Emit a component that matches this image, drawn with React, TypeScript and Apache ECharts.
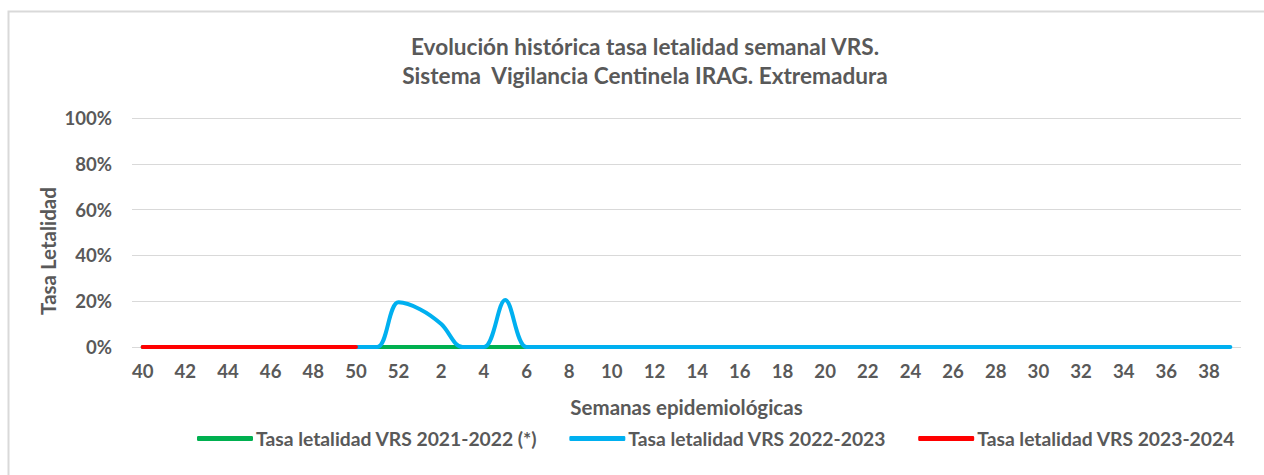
import React, { useEffect, useRef } from "react";
import * as echarts from "echarts";

const weeks: string[] = [
  "40","41","42","43","44","45","46","47","48","49","50","51","52",
  "1","2","3","4","5","6","7","8","9","10","11","12","13","14","15","16","17","18","19","20",
  "21","22","23","24","25","26","27","28","29","30","31","32","33","34","35","36","37","38","39",
];

// Tasa letalidad VRS 2021-2022 (*): weeks 40..7
const s2122: (number | null)[] = [
  0,0,0,0,0,0,0,0,0,0,0,0,0,
  0,0,0,0,0,0,0,
];
// Tasa letalidad VRS 2022-2023: weeks 50..39
const s2223: (number | null)[] = [
  null,null,null,null,null,null,null,null,null,null,0,0,19.5,
  16.5,10,0,0,20.5,0,0,0,0,0,0,0,0,0,0,0,0,0,0,0,
  0,0,0,0,0,0,0,0,0,0,0,0,0,0,0,0,0,0,0,
];
// Tasa letalidad VRS 2023-2024: weeks 40..50
const s2324: (number | null)[] = [0,0,0,0,0,0,0,0,0,0,0];

const yTicks = [0, 20, 40, 60, 80, 100];

const names = [
  "Tasa letalidad VRS 2021-2022 (*)",
  "Tasa letalidad VRS 2022-2023",
  "Tasa letalidad VRS 2023-2024",
];
const colors = ["#00B050", "#00B0F0", "#FF0000"];

const FONT = "Lato";
const GREY = "#595959";

export default function App() {
  const ref = useRef<HTMLDivElement>(null);
  useEffect(() => {
    if (!ref.current) return;
    const chart = echarts.init(ref.current, null, { renderer: "svg" });
    const mk = (i: number, data: (number | null)[], z: number) => ({
      name: names[i],
      type: "line",
      data,
      smooth: 0.35,
      symbol: "none",
      z,
      lineStyle: { color: colors[i], width: 4, cap: "round", join: "round" },
      itemStyle: { color: colors[i] },
    });
    chart.setOption({
      animation: false,
      backgroundColor: "#ffffff",
      textStyle: { fontFamily: FONT },
      title: {
        text: "Evolución histórica tasa letalidad semanal VRS.\nSistema  Vigilancia Centinela IRAG. Extremadura",
        left: 640,
        top: 27,
        textAlign: "center",
        textStyle: {
          fontFamily: FONT,
          fontSize: 22.6,
          fontWeight: "bold",
          color: GREY,
          lineHeight: 29,
        },
      },
      grid: { left: 132, right: 23, top: 118, bottom: 128 },
      xAxis: {
        type: "category",
        data: weeks,
        boundaryGap: true,
        axisLine: { show: false },
        axisTick: { show: false },
        axisLabel: {
          interval: 1,
          margin: 14,
          fontFamily: FONT,
          fontSize: 18.6,
          fontWeight: "bold",
          color: GREY,
        },
        name: "Semanas epidemiológicas",
        nameLocation: "middle",
        nameGap: 49,
        nameTextStyle: {
          fontFamily: FONT,
          fontSize: 20.5,
          fontWeight: "bold",
          color: GREY,
        },
      },
      yAxis: {
        type: "value",
        min: yTicks[0],
        max: yTicks[yTicks.length - 1],
        interval: 20,
        axisLine: { show: false },
        axisTick: { show: false },
        splitLine: { lineStyle: { color: "#D9D9D9", width: 1 } },
        axisLabel: {
          formatter: "{value}%",
          margin: 20,
          fontFamily: FONT,
          fontSize: 18.6,
          fontWeight: "bold",
          color: GREY,
        },
      },
      legend: {
        data: names,
        left: 192,
        top: 424,
        itemWidth: 56,
        itemHeight: 5,
        itemGap: 32,
        icon: "roundRect",
        textStyle: {
          fontFamily: FONT,
          fontSize: 19.3,
          fontWeight: "bold",
          color: GREY,
          padding: [0, 0, 0, -2],
        },
      },
      graphic: [
        {
          type: "rect",
          left: 6,
          top: 9,
          shape: { x: 0, y: 0, width: 1270, height: 480 },
          style: { fill: "none", stroke: "#D9D9D9", lineWidth: 2 },
          z: -1,
        },
        {
          type: "text",
          x: 48,
          y: 251,
          rotation: Math.PI / 2,
          style: {
            text: "Tasa Letalidad",
            fontFamily: FONT,
            fontSize: 20.5,
            fontWeight: "bold",
            fill: GREY,
            align: "center",
            verticalAlign: "middle",
          },
        },
      ],
      series: [mk(0, s2122, 2), mk(1, s2223, 3), mk(2, s2324, 4)],
    });
    return () => chart.dispose();
  }, []);
  return (
    <div
      ref={ref}
      style={{ position: "fixed", left: 0, top: 0, width: 1264, height: 475 }}
    />
  );
}
